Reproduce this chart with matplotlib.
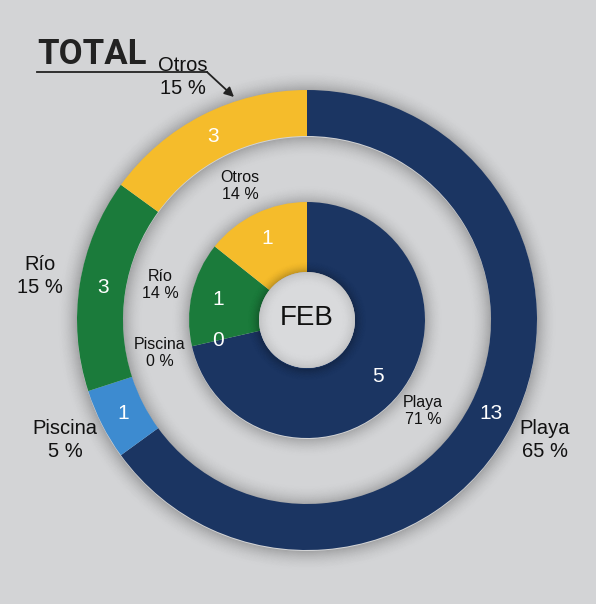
import numpy as np
import matplotlib.pyplot as plt
from matplotlib.patches import Wedge, Circle

# data
categorias = ['Playa', 'Piscina', 'Río', 'Otros']
total = [13, 1, 3, 3]
feb = [5, 0, 1, 1]
pct_total = ['65 %', '5 %', '15 %', '15 %']
pct_feb = ['71 %', '0 %', '14 %', '14 %']
colores = ['#1b3562', '#3d8bd0', '#1b7b3b', '#f5bc2b']

fondo = '#d3d4d6'
cx, cy = 307, 604 - 320

fig = plt.figure(figsize=(5.96, 6.04), dpi=100, facecolor=fondo)
ax = fig.add_axes([0, 0, 1, 1])
ax.set_facecolor(fondo)

def sombra(r0, r1, alpha, hacia_fuera=True, dx=0, dy=-1, n=20, z=1):
    # soft shading band between r0 and r1
    paso = (r1 - r0) / n
    for i in range(n):
        f = (1 - i / n) ** 2
        if hacia_fuera:
            r = r0 + (i + 1) * paso
        else:
            r = r1 - i * paso
        ax.add_patch(Wedge((cx + dx, cy + dy), r, 0, 360, width=paso,
                           facecolor='black', alpha=alpha * f, lw=0, zorder=z))

R_ext, w_ext = 230, 46
R_int, w_int = 118, 70

# shadows of the rings on the background
sombra(R_ext, R_ext + 20, 0.22)
sombra(R_ext - w_ext - 20, R_ext - w_ext, 0.22, hacia_fuera=False)
sombra(R_int, R_int + 18, 0.2)

ax.pie(total, colors=colores, startangle=90, counterclock=False, radius=R_ext,
       center=(cx, cy), wedgeprops=dict(width=w_ext, lw=0, zorder=2), frame=True)
ax.pie(feb, colors=colores, startangle=90, counterclock=False, radius=R_int,
       center=(cx, cy), wedgeprops=dict(width=w_int, lw=0, zorder=2), frame=True)

# centre disc, sitting over the inner ring
sombra(48, 60, 0.25, z=3)
ax.add_patch(Circle((cx, cy), 48, facecolor='#d9dadc', lw=0, zorder=3.5))
sombra(34, 48, 0.10, hacia_fuera=False, dy=0, z=3.6)

ax.set_xlim(0, 596)
ax.set_ylim(0, 604)
ax.set_aspect('equal')
ax.axis('off')

def angulos(vals):
    tot = sum(vals)
    a = 90.0
    mids = []
    for v in vals:
        ang = v / tot * 360
        mids.append(a - ang / 2)
        a -= ang
    return mids

fuente = 'Liberation Sans'

for v, m in zip(total, angulos(total)):
    r = 206
    ax.text(cx + r * np.cos(np.radians(m)), cy + r * np.sin(np.radians(m)), str(v),
            color='white', fontsize=15, ha='center', va='center', family=fuente, zorder=5)
for v, m in zip(feb, angulos(feb)):
    r = 91
    ax.text(cx + r * np.cos(np.radians(m)), cy + r * np.sin(np.radians(m)), str(v),
            color='white', fontsize=15, ha='center', va='center', family=fuente, zorder=5)

# outer labels
pos_ext = [(545, 604 - 440), (65, 604 - 440), (40, 604 - 276), (183, 604 - 77)]
for (x, y), c, p in zip(pos_ext, categorias, pct_total):
    ax.text(x, y, c + '\n' + p, fontsize=14.5, ha='center', va='center',
            color='#111111', family=fuente, linespacing=1.25, zorder=5)

pos_int = [(423, 604 - 411), (160, 604 - 353), (160, 604 - 285), (240, 604 - 186)]
for (x, y), c, p in zip(pos_int, categorias, pct_feb):
    ax.text(x, y, c + '\n' + p, fontsize=11.5, ha='center', va='center',
            color='#111111', family=fuente, linespacing=1.2, zorder=5)

ax.text(cx, cy + 2, 'FEB', fontsize=20, ha='center', va='center',
        color='#111111', family=fuente, zorder=5)

ax.text(37, 604 - 54, 'TOTAL', fontsize=25, fontweight='bold', ha='left',
        va='center', color='#222222', family='Roboto', zorder=5)
ax.plot([37, 207], [604 - 72, 604 - 72], color='#222222', lw=1.3, zorder=5)
ax.annotate('', xy=(234, 604 - 97), xytext=(207, 604 - 72),
            arrowprops=dict(arrowstyle='-|>', color='#222222', lw=1.3,
                            mutation_scale=14, shrinkA=0, shrinkB=0), zorder=5)

fig.savefig('out.png', dpi=100, facecolor=fondo)
